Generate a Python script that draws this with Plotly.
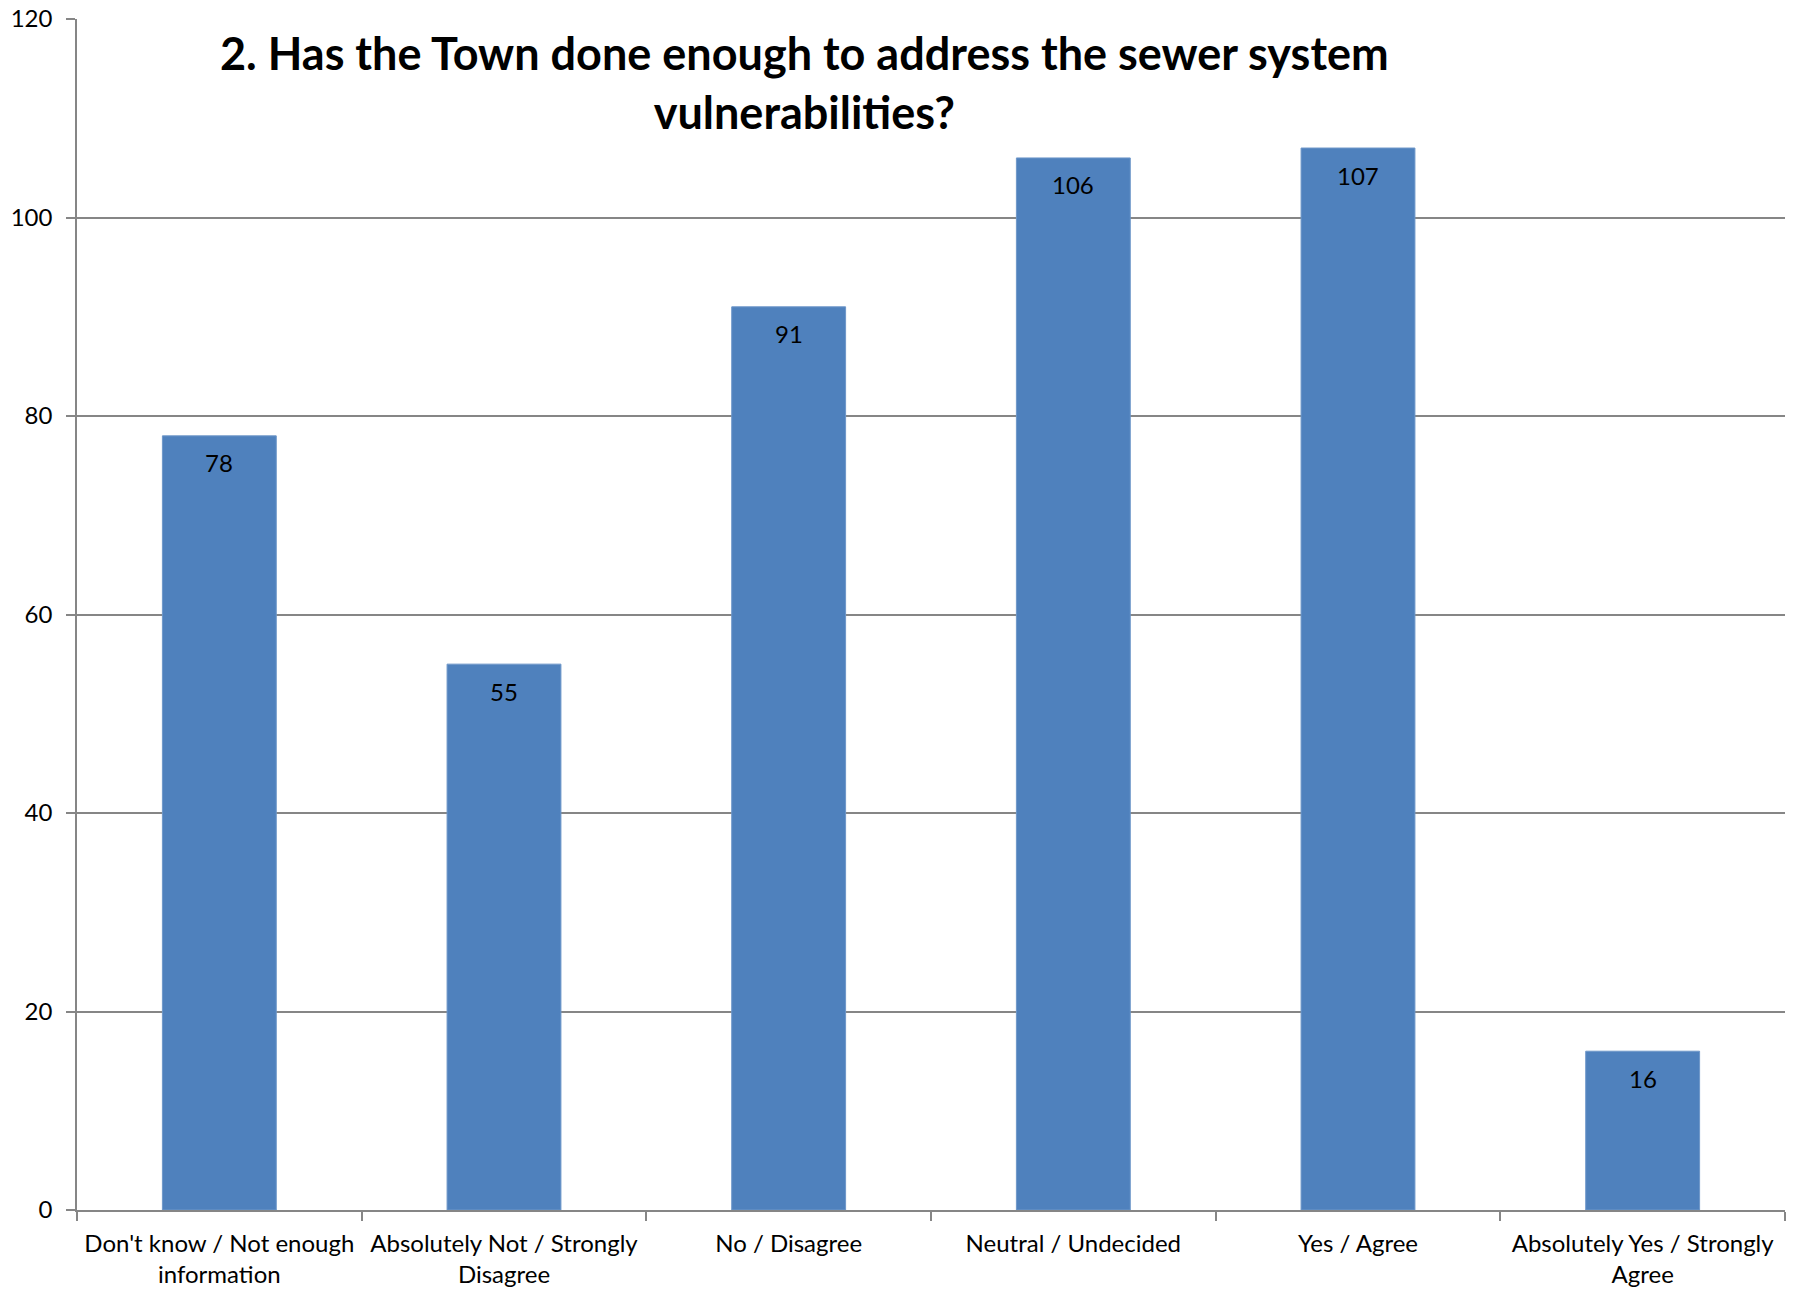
import plotly.graph_objects as go

categories = [
    "Don't know / Not enough<br>information",
    "Absolutely Not / Strongly<br>Disagree",
    "No / Disagree",
    "Neutral / Undecided",
    "Yes / Agree",
    "Absolutely Yes / Strongly<br>Agree",
]
counts = [78, 55, 91, 106, 107, 16]
y_ticks = [0, 20, 40, 60, 80, 100, 120]
title_text = "<b>2. Has the Town done enough to address the sewer system<br>vulnerabilities?</b>"

FONT = "Lato, 'Open Sans', sans-serif"
BAR = "#4F81BD"
GRID = "#868686"

fig = go.Figure()
fig.add_trace(go.Bar(
    x=categories, y=counts,
    marker=dict(color=BAR, line=dict(color="#6E97C9", width=1)),
    hoverinfo="x+y",
))

for c, v in zip(categories, counts):
    fig.add_annotation(x=c, y=v, xref="x", yref="y", text=str(v), showarrow=False,
                       yshift=-27, font=dict(family=FONT, size=24, color="#000000"))

fig.add_annotation(x=0.426, y=0.9467, xref="paper", yref="paper", text=title_text,
                   showarrow=False, xanchor="center", yanchor="middle",
                   font=dict(family=FONT, size=45, color="#000000"), align="center")

fig.update_layout(
    width=1814, height=1306,
    margin=dict(l=77, r=29, t=19, b=96, pad=0),
    paper_bgcolor="white", plot_bgcolor="white",
    bargap=0.6, showlegend=False,
    font=dict(family=FONT, size=24, color="#000000"),
)
fig.update_xaxes(
    type="category", tickson="boundaries", ticks="outside", ticklen=9, tickwidth=1.5, tickcolor=GRID,
    showline=True, linecolor=GRID, linewidth=1.5, showgrid=False, automargin=False,
    tickfont=dict(family=FONT, size=24, color="#000000"), ticklabelstandoff=11,
)
fig.update_yaxes(
    range=[0, 120], tickvals=y_ticks, ticks="outside", ticklen=9, tickwidth=1.5, tickcolor=GRID,
    showline=True, linecolor=GRID, linewidth=1.5, showgrid=True, gridcolor=GRID, gridwidth=1.5,
    zeroline=False, automargin=False, tickfont=dict(family=FONT, size=24, color="#000000"),
    ticklabelstandoff=9, ticklabeloverflow="allow",
)
fig.write_html("out.html", config={"displayModeBar": False},
               post_script="document.body.style.margin='0';")
